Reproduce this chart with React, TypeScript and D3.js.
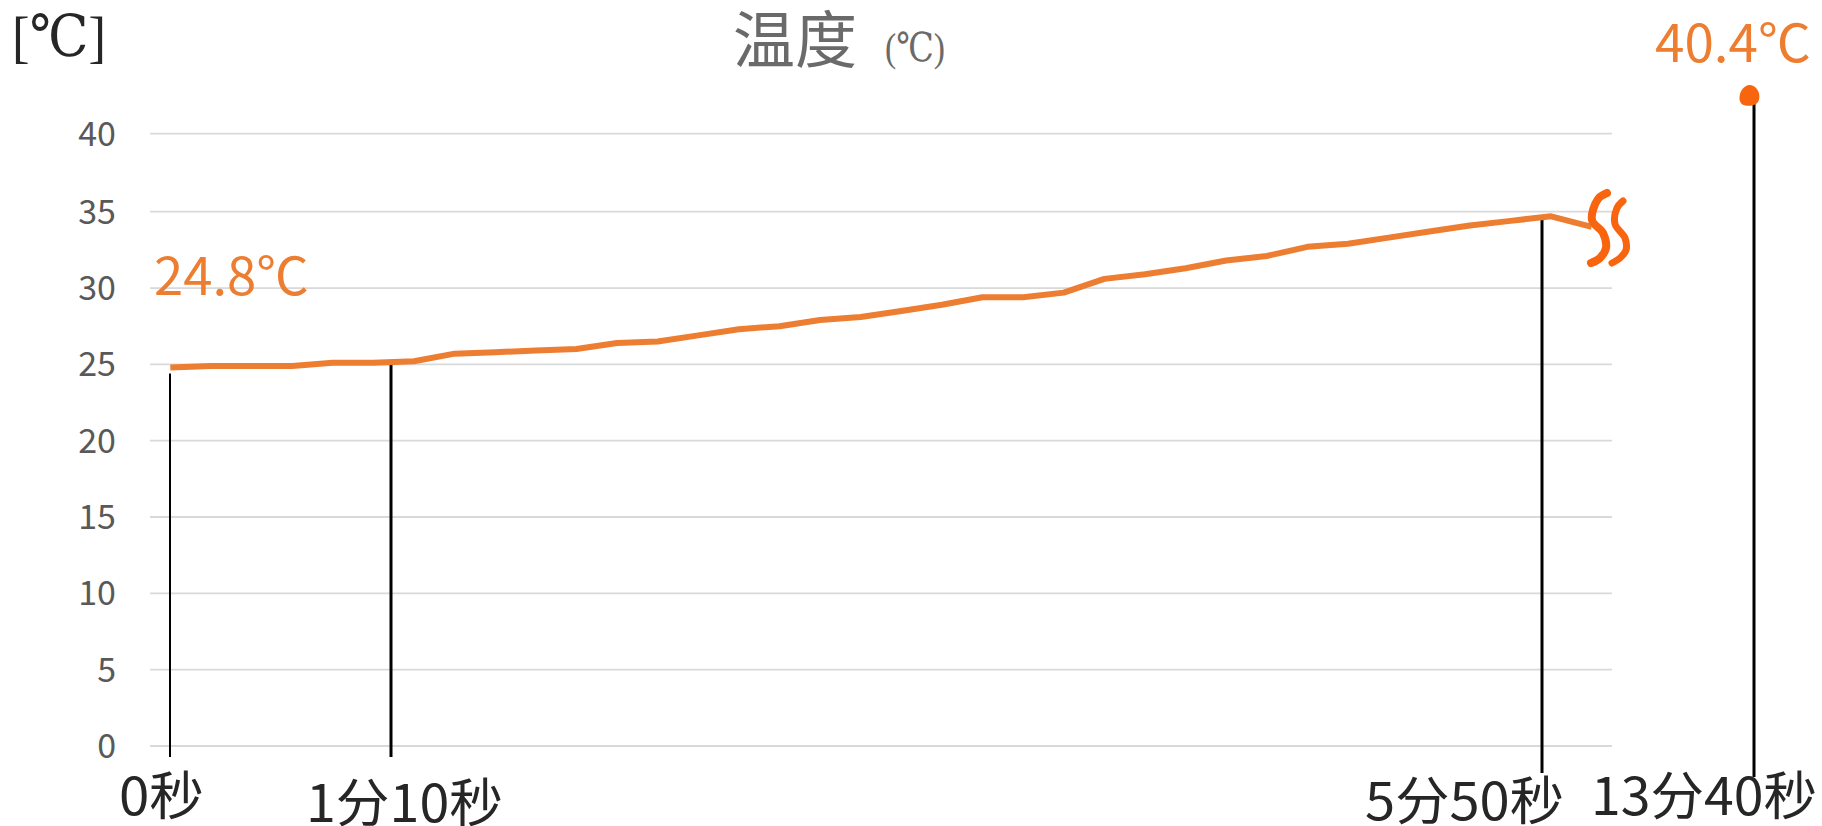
import React from "react";
import * as d3 from "d3";

const WIDTH = 1822;
const HEIGHT = 826;

// Temperature sampled every 10 seconds, up to the axis break
const temperature = [
  24.8, 24.9, 24.9, 24.9, 25.1, 25.1, 25.2, 25.7, 25.8, 25.9, 26.0, 26.4,
  26.5, 26.9, 27.3, 27.5, 27.9, 28.1, 28.5, 28.9, 29.4, 29.4, 29.7, 30.6,
  30.9, 31.3, 31.8, 32.1, 32.7, 32.9, 33.3, 33.7, 34.1, 34.4, 34.7, 34.0,
];
const sampleSeconds = temperature.map((_, i) => i * 10);
const yTicks = [0, 5, 10, 15, 20, 25, 30, 35, 40];

// Highlighted moments below the axis
const markerLabels = ["0秒", "1分10秒", "5分50秒", "13分40秒"];
const markerPositions = [170, 391, 1542, 1754];
const markerWidths = [2, 3, 3, 3];
const markerTops = [24.4, 25.0, 34.5];
const markerBottoms = [757, 757, 773, 777];
const markerLabelStarts = [119, 306, 1365, 1591];
const markerLabelWidths = [85, 197, 199, 226];
const markerLabelBaselines = [815, 822, 820, 815];

const finalValue = 40.4;
const startLabel = "24.8℃";
const finalLabel = "40.4℃";

// Steam marks drawn beside the axis break
const steamLeft: [number, number][] = [[1607, 193], [1598, 199], [1592, 220], [1603, 233], [1606, 248], [1600, 258], [1591, 263]];
const steamRight: [number, number][] = [[1623, 201], [1617, 208], [1615, 224], [1625, 238], [1626, 250], [1620, 258], [1612, 263]];
// Outline of the hand-drawn dot, relative to its centre
const dotOutline: [number, number][] = [[0, -9.5], [6.5, -6], [9, 1], [7, 8], [-1, 9.5], [-7.5, 8], [-9, 2], [-6.5, -5.5]];

const SANS = "'Noto Sans CJK SC', 'Noto Sans', sans-serif";
const SERIF = "'Liberation Serif', 'DejaVu Serif', serif";
const ORANGE = "#ED7D31";
const DEEP_ORANGE = "#F9650F";

export default function App() {
  const x = d3.scaleBand<number>().domain(sampleSeconds).range([150, 1612]);
  const y = d3.scaleLinear().domain([0, 35, 40]).range([746, 211.7, 133.7]);
  // The 13分40秒 reading sits above the break on its own scale
  const yBroken = d3.scaleLinear().domain([0, finalValue]).range([746, 95]);
  const markerX = d3.scaleOrdinal<string, number>().domain(markerLabels).range(markerPositions);

  const line = d3
    .line<number>()
    .x((_, i) => x(sampleSeconds[i])! + x.bandwidth() / 2)
    .y((d) => y(d));
  const steam = d3.line().curve(d3.curveCatmullRom.alpha(0.5));
  const dot = d3.line().curve(d3.curveBasisClosed);

  return (
    <svg
      width={WIDTH}
      height={HEIGHT}
      viewBox={`0 0 ${WIDTH} ${HEIGHT}`}
      style={{ position: "fixed", left: 0, top: 0, display: "block", background: "#fff" }}
    >
      <text x={12} y={56} fontFamily={SERIF} fontSize={58} fill="#262626" textLength={94} lengthAdjust="spacingAndGlyphs">
        [℃]
      </text>

      <g fontFamily={SANS} fill="#6A6A6A">
        <text x={733} y={63} fontSize={62}>温度</text>
        <text x={885} y={61} fontSize={40} fontFamily={SERIF} textLength={60} lengthAdjust="spacingAndGlyphs">(℃)</text>
      </g>

      <g stroke="#D9D9D9" strokeWidth={1.8}>
        {yTicks.map((t) => (
          <line key={t} x1={150} x2={1612} y1={y(t)} y2={y(t)} />
        ))}
      </g>
      <g fontFamily={SANS} fontSize={34} fill="#595959" textAnchor="end">
        {yTicks.map((t) => (
          <text key={t} x={116} y={y(t) + 12}>{t}</text>
        ))}
      </g>

      <g stroke="#000">
        {markerLabels.map((label, i) => {
          const top = i < 3 ? y(markerTops[i]) : yBroken(finalValue) + 8;
          return (
            <line key={label} x1={markerX(label)} x2={markerX(label)} y1={top} y2={markerBottoms[i]} strokeWidth={markerWidths[i]} />
          );
        })}
      </g>

      <path d={line(temperature) ?? ""} fill="none" stroke={ORANGE} strokeWidth={6} strokeLinejoin="round" />

      <g fill="none" stroke={DEEP_ORANGE} strokeLinecap="round" strokeLinejoin="round">
        <path d={steam(steamLeft) ?? ""} strokeWidth={8} />
        <path d={steam(steamRight) ?? ""} strokeWidth={7} />
      </g>
      <path
        transform={`translate(1749.5,${yBroken(finalValue)}) scale(1.2)`}
        d={dot(dotOutline) ?? ""}
        fill={DEEP_ORANGE}
      />

      <g fontFamily={SANS} fontSize={52} fill={ORANGE}>
        <text x={154} y={295} textLength={155} lengthAdjust="spacingAndGlyphs">{startLabel}</text>
        <text x={1655} y={62} textLength={156} lengthAdjust="spacingAndGlyphs">{finalLabel}</text>
      </g>

      <g fontFamily={SANS} fontSize={52} fill="#262626">
        {markerLabels.map((label, i) => (
          <text key={label} x={markerLabelStarts[i]} y={markerLabelBaselines[i]} textLength={markerLabelWidths[i]} lengthAdjust="spacingAndGlyphs">
            {label}
          </text>
        ))}
      </g>
    </svg>
  );
}
